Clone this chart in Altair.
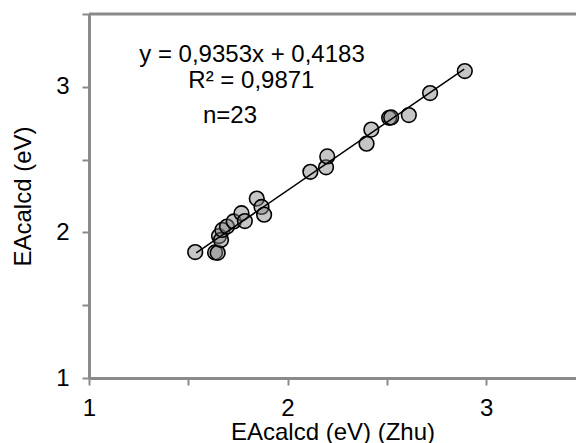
import altair as alt
import pandas as pd

# Data
x_zhu = [1.535, 1.635, 1.648, 1.655, 1.665, 1.672, 1.695, 1.729, 1.768, 1.785,
         1.845, 1.869, 1.882, 2.115, 2.194, 2.200, 2.398, 2.422, 2.512, 2.522,
         2.611, 2.718, 2.893]
y_calc = [1.865, 1.862, 1.860, 1.975, 1.948, 2.017, 2.040, 2.075, 2.132, 2.078,
          2.232, 2.175, 2.122, 2.416, 2.447, 2.522, 2.609, 2.706, 2.787, 2.790,
          2.806, 2.957, 3.108]

slope = 0.9353
intercept = 0.4183
trend_x = [1.54, 2.89]

eq_text = "y = 0,9353x + 0,4183"
r2_text = "R² = 0,9871"
n_text = "n=23"

tick_values = [1, 1.5, 2, 2.5, 3, 3.5]
x_domain = [1, 3.453]
y_domain = [1, 3.5]

FONT = "Liberation Sans"
GRAY = "#8a8a8a"
FS = 24

df = pd.DataFrame({"x": x_zhu, "y": y_calc})
trend = pd.DataFrame({"x": trend_x})

xscale = alt.Scale(domain=x_domain, nice=False, zero=False)
yscale = alt.Scale(domain=y_domain, nice=False, zero=False)

common_axis = dict(
    values=tick_values,
    labelExpr="datum.value % 1 == 0 ? '' + datum.value : ''",
    grid=False,
    domainColor=GRAY, domainWidth=3,
    tickColor=GRAY, tickWidth=2, tickSize=7,
    labelFont=FONT, labelFontSize=FS, labelColor="black",
    labelFlush=False, labelOverlap=False,
    titleFont=FONT, titleFontSize=FS, titleColor="black", titleFontWeight="normal",
)

xaxis = alt.Axis(title="EAcalcd (eV) (Zhu)", labelPadding=11, titlePadding=0, **common_axis)
yaxis = alt.Axis(title="EAcalcd (eV)", labelPadding=13, titlePadding=20, **common_axis)

points = alt.Chart(df).mark_point(
    shape="circle", filled=False, fill="#808080", fillOpacity=0.45,
    stroke="black", strokeWidth=1.6, size=215, opacity=1
).encode(
    x=alt.X("x:Q", scale=xscale, axis=xaxis),
    y=alt.Y("y:Q", scale=yscale, axis=yaxis),
)

line = alt.Chart(trend).transform_calculate(
    y=f"{slope} * datum.x + {intercept}"
).mark_line(color="black", strokeWidth=1.5).encode(
    x=alt.X("x:Q", scale=xscale),
    y=alt.Y("y:Q", scale=yscale),
)

top_border = alt.Chart(pd.DataFrame({"a": [0]})).mark_rule(
    color=GRAY, strokeWidth=3
).encode(
    x=alt.datum(x_domain[0], scale=xscale),
    x2=alt.datum(x_domain[1]),
    y=alt.datum(y_domain[1], scale=yscale),
)

def label(txt, xv, yv, align="center"):
    return alt.Chart(pd.DataFrame({"t": [txt]})).mark_text(
        font=FONT, fontSize=FS, color="black", align=align, baseline="alphabetic"
    ).encode(
        x=alt.datum(xv, scale=xscale),
        y=alt.datum(yv, scale=yscale),
        text="t:N",
    )

t1 = label(eq_text, 1.821, 3.171)
t2 = label(r2_text, 1.818, 2.989)
t3 = label(n_text, 1.710, 2.751)

chart = alt.layer(top_border, points, line, t1, t2, t3).properties(
    width=487, height=364,
    padding={"left": 81, "top": 6, "right": 0, "bottom": 70},
    autosize=alt.AutoSizeParams(type="none"),
).configure_view(stroke=None)

chart.save("out.html", embed_options={"renderer": "svg", "actions": False})
